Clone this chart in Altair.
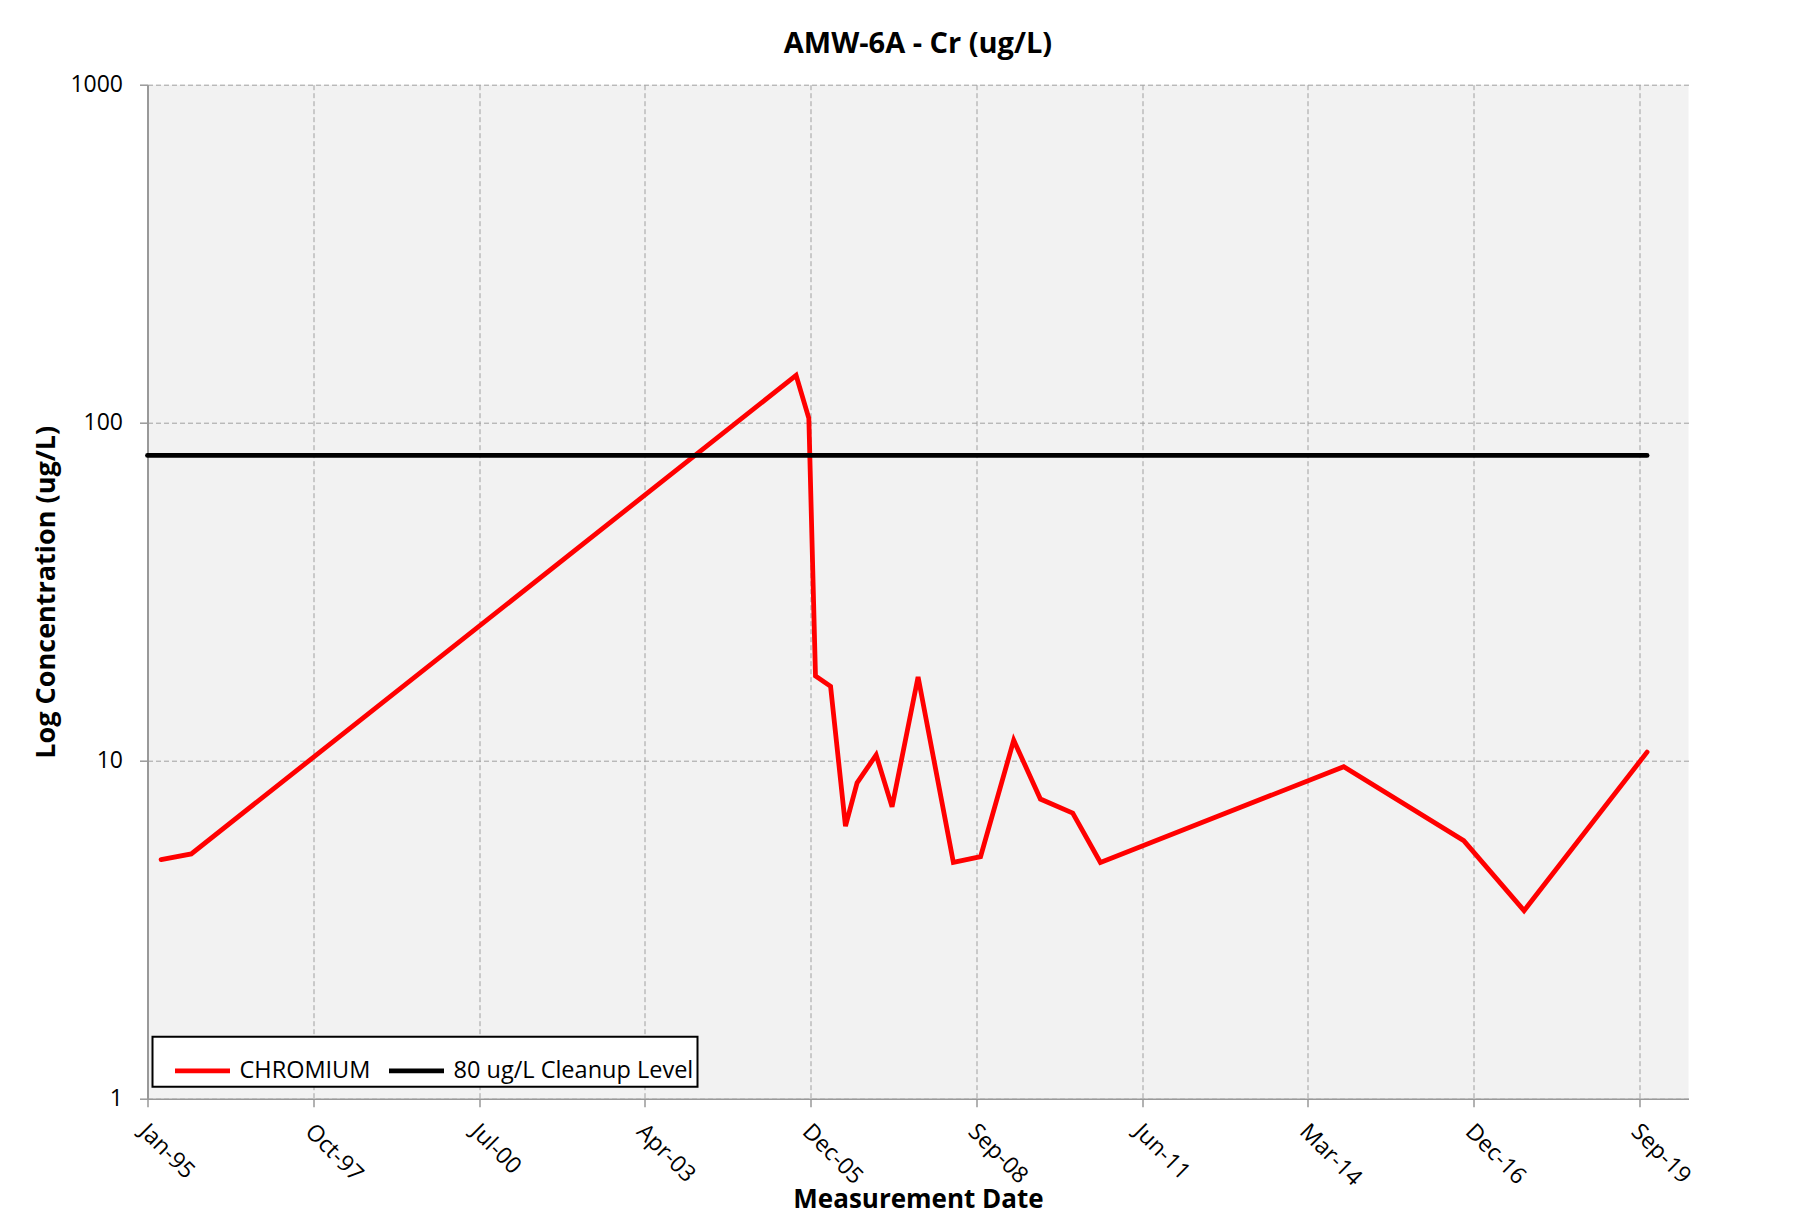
import altair as alt
import pandas as pd

# ---- data ----
cr_dates = [
    "1995-04-07", "1995-10-06", "2005-10-02", "2005-12-18", "2006-01-27",
    "2006-04-28", "2006-07-27", "2006-10-05", "2007-01-28", "2007-05-04",
    "2007-10-08", "2008-05-08", "2008-10-19", "2009-05-07", "2009-10-15",
    "2010-04-28", "2010-10-12", "2014-10-19", "2016-10-12", "2017-10-11",
    "2019-10-23",
]
cr_values = [
    5.1, 5.3, 138, 103, 17.8,
    16.6, 6.4, 8.6, 10.4, 7.3,
    17.7, 5.0, 5.2, 11.5, 7.7,
    7.0, 5.0, 9.6, 5.8, 3.6,
    10.6,
]
cleanup_dates = ["1995-01-15", "2019-10-23"]
cleanup_values = [80, 80]

series_names = ["CHROMIUM", "80 ug/L Cleanup Level"]
series_colors = ["#FF0000", "#000000"]

# x tick positions (every 1000 days) and their labels
tick_dates = [
    (1995, 1, 15), (1997, 10, 11), (2000, 7, 7), (2003, 4, 3), (2005, 12, 28),
    (2008, 9, 23), (2011, 6, 20), (2014, 3, 16), (2016, 12, 10), (2019, 9, 6),
]
tick_labels = ["Jan-95", "Oct-97", "Jul-00", "Apr-03", "Dec-05",
               "Sep-08", "Jun-11", "Mar-14", "Dec-16", "Sep-19"]
x_domain = [(1995, 1, 15), (2020, 6, 29)]
y_ticks = [1, 10, 100, 1000]

df = pd.concat([
    pd.DataFrame({"date": cr_dates, "value": cr_values, "series": series_names[0], "order": 0}),
    pd.DataFrame({"date": cleanup_dates, "value": cleanup_values, "series": series_names[1], "order": 1}),
], ignore_index=True)


def dt(t):
    return alt.DateTime(year=t[0], month=t[1], date=t[2], utc=True)


label_map = {f"{t[0]}-{t[1]:02d}": lab for t, lab in zip(tick_dates, tick_labels)}
label_expr = "{" + ",".join(f"'{k}':'{v}'" for k, v in label_map.items()) + "}[utcFormat(datum.value, '%Y-%m')]"

W, H = 1541, 1014

line = alt.Chart(df).mark_line(strokeWidth=4.8, strokeCap="round").encode(
    x=alt.X(
        "date:T",
        scale=alt.Scale(type="utc", domain=[dt(x_domain[0]), dt(x_domain[1])], nice=False),
        axis=alt.Axis(
            values=[dt(t) for t in tick_dates],
            labelExpr=label_expr,
            labelAngle=45,
            labelAlign="left",
            labelBaseline="top",
            labelFont="Open Sans",
            labelFontSize=23,
            labelColor="#000000",
            labelPadding=13,
            labelOffset=3,
            labelOverlap=False,
            tickSize=8,
            tickColor="#999999",
            tickWidth=1.5,
            domainColor="#999999",
            domainWidth=1.5,
            grid=True,
            gridColor="#A0A0A0",
            gridDash=[5, 3],
            gridWidth=1,
            title="Measurement Date",
            titleFont="Open Sans",
            titleFontWeight="bold",
            titleFontSize=26,
            titleColor="#000000",
            titleX=W / 2,
            titleY=101,
            titleAlign="center",
            titleBaseline="middle",
        ),
    ),
    y=alt.Y(
        "value:Q",
        scale=alt.Scale(type="log", domain=[1, 1000], nice=False),
        axis=alt.Axis(
            values=y_ticks,
            format="d",
            labelFont="Open Sans",
            labelFontSize=23,
            labelColor="#000000",
            labelPadding=17,
            tickSize=8,
            tickColor="#999999",
            tickWidth=1.5,
            domainColor="#999999",
            domainWidth=2,
            grid=True,
            gridColor="#A0A0A0",
            gridDash=[5, 3],
            gridWidth=1,
            title="Log Concentration (ug/L)",
            titleFont="Open Sans",
            titleFontWeight="bold",
            titleFontSize=27,
            titleColor="#000000",
            titleAngle=-90,
            titleX=-101,
            titleY=H / 2,
            titleAlign="center",
            titleBaseline="middle",
        ),
    ),
    color=alt.Color(
        "series:N",
        sort=series_names,
        scale=alt.Scale(domain=series_names, range=series_colors),
        legend=alt.Legend(
            title=None,
            orient="none",
            legendX=5,
            legendY=952,
            direction="horizontal",
            symbolType="stroke",
            symbolSize=3025,
            symbolStrokeWidth=4.8,
            symbolOffset=16,
            labelFont="Open Sans",
            labelFontSize=23.5,
            labelColor="#000000",
            labelOffset=7,
            labelLimit=500,
            columnPadding=0,
            padding=4,
            strokeColor="#000000",
            fillColor="#FFFFFF",
        ),
    ),
    order=alt.Order("order:Q"),
)

chart = line.properties(
    width=W,
    height=H,
    title=alt.Title(
        "AMW-6A - Cr (ug/L)",
        font="Open Sans",
        fontWeight="bold",
        fontSize=29,
        color="#000000",
        anchor="middle",
        offset=15,
    ),
    autosize=alt.AutoSizeParams(type="none"),
    padding={"left": 139.5, "top": 76.7, "right": 110, "bottom": 118.3},
).configure_view(
    fill="#F2F2F2",
    strokeWidth=0,
).configure_legend(
    strokeWidth=2,
)

chart.save("out.html", embed_options={"renderer": "svg", "actions": False})
